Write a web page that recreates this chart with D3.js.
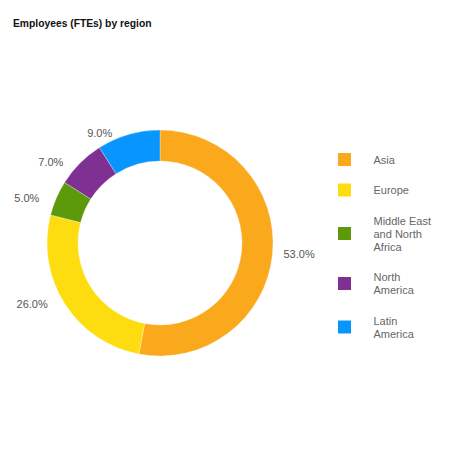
<!DOCTYPE html>
<html>
<head>
<meta charset="utf-8">
<script src="https://cdn.jsdelivr.net/npm/d3@7"></script>
<style>
  body { margin: 0; background: #fff; }
  svg { font-family: "Liberation Sans", Arial, sans-serif; }
</style>
</head>
<body>
<div id="chart"></div>
<script>
// data
var regions = ["Asia", "Europe", "Middle East and North Africa", "North America", "Latin America"];
var legendLines = [["Asia"], ["Europe"], ["Middle East", "and North", "Africa"], ["North", "America"], ["Latin", "America"]];
var shares = [53.0, 26.0, 5.0, 7.0, 9.0];
var colors = ["#f9a91b", "#fedd10", "#5c9a0c", "#7e3193", "#0995fe"];

var width = 466, height = 466;
var cx = 160, cy = 243,
    outerR = 113, innerR = 82;

var svg = d3.select("#chart").append("svg")
    .attr("width", width)
    .attr("height", height);

svg.append("text")
    .attr("x", 13)
    .attr("y", 27)
    .style("font-size", "10.3px")
    .style("font-weight", "bold")
    .style("fill", "#111")
    .text("Employees (FTEs) by region");

var data = regions.map(function (r, i) {
    return {name: r, value: shares[i], color: colors[i]};
});

var pie = d3.pie()
    .sort(null)
    .value(function (d) { return d.value; });

var arc = d3.arc()
    .innerRadius(innerR)
    .outerRadius(outerR);

var g = svg.append("g")
    .attr("transform", "translate(" + cx + "," + cy + ")");

var arcs = pie(data);

g.selectAll("path")
    .data(arcs)
    .enter().append("path")
    .attr("d", arc)
    .style("fill", function (d) { return d.data.color; })
    .style("stroke", "#fff")
    .style("stroke-width", 0.3);

// labels: point just outside the ring, then pushed sideways
var labelR = outerR + 1;
g.selectAll("text.lbl")
    .data(arcs)
    .enter().append("text")
    .attr("class", "lbl")
    .attr("x", function (d) {
        var a = (d.startAngle + d.endAngle) / 2;
        var x = Math.sin(a) * labelR;
        return x >= 0 ? x + 10 : x - 16;
    })
    .attr("y", function (d) {
        var a = (d.startAngle + d.endAngle) / 2;
        return -Math.cos(a) * labelR;
    })
    .attr("dy", "0.35em")
    .attr("text-anchor", function (d) {
        var a = (d.startAngle + d.endAngle) / 2;
        return Math.sin(a) >= 0 ? "start" : "end";
    })
    .style("font-size", "11px")
    .style("fill", "#555")
    .text(function (d) { return d3.format(".1f")(d.data.value) + "%"; });

// legend
var lineH = 13, gap = 17.5;
var legend = svg.append("g")
    .attr("transform", "translate(338,153.5)");

var yPos = 0;
legendLines.forEach(function (lines, i) {
    var h = lines.length * lineH;
    var item = legend.append("g")
        .attr("transform", "translate(0," + yPos + ")");
    item.append("rect")
        .attr("x", 0)
        .attr("y", h / 2 - 6.5 - 0.5)
        .attr("width", 13)
        .attr("height", 13)
        .style("fill", colors[i]);
    lines.forEach(function (t, j) {
        item.append("text")
            .attr("x", 35.5)
            .attr("y", j * lineH + lineH / 2)
            .attr("dy", "0.35em")
            .style("font-size", "11px")
            .style("fill", "#666")
            .text(t);
    });
    yPos += h + gap;
});
</script>
</body>
</html>
